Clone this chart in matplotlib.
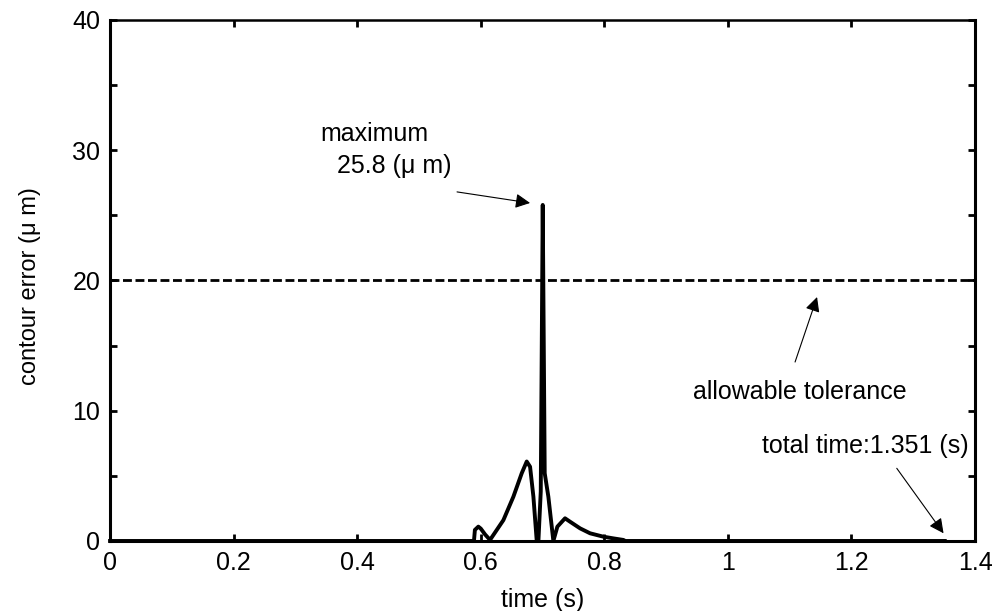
import matplotlib
matplotlib.use('Agg')
import matplotlib.pyplot as plt
from matplotlib.ticker import MultipleLocator

plt.rcParams['font.family'] = ['Liberation Sans', 'DejaVu Sans']

# contour error trace
time_s = [0.0, 0.589, 0.5905, 0.5961, 0.600, 0.607, 0.615,
          0.6366, 0.6528, 0.6663, 0.6744, 0.6798, 0.6852, 0.6906,
          0.6933, 0.6971, 0.7003, 0.7035, 0.7094, 0.7175,
          0.7240, 0.7364, 0.7445, 0.7607, 0.7769, 0.7984, 0.8146, 0.8308,
          0.834, 1.351]
error_um = [0.0, 0.0, 0.85, 1.1, 0.95, 0.5, 0.08,
            1.6, 3.4, 5.2, 6.1, 5.7, 3.4, 0.0,
            0.0, 3.8, 25.8, 5.2, 3.4, 0.0,
            1.1, 1.74, 1.48, 0.97, 0.59, 0.33, 0.2, 0.08,
            0.0, 0.0]

tolerance = 20.0
max_err = 25.8
total_time = 1.351

xticks = [0, 0.2, 0.4, 0.6, 0.8, 1.0, 1.2, 1.4]
xtick_labels = ['0', '0.2', '0.4', '0.6', '0.8', '1', '1.2', '1.4']
yticks = [0, 10, 20, 30, 40]
ytick_labels = ['0', '10', '20', '30', '40']

fig = plt.figure(figsize=(10.05, 6.11), dpi=100)
ax = fig.add_axes([0.1095, 0.1146, 0.8607, 0.8527])

ax.plot(time_s, error_um, color='black', lw=2.8, clip_on=False, zorder=3)
ax.plot([0, 1.4], [tolerance, tolerance], color='black', lw=2.0,
        linestyle=(0, (3.2, 1.3)))

ax.set_xlim(0, 1.4)
ax.set_ylim(0, 40)
ax.set_xticks(xticks)
ax.set_xticklabels(xtick_labels)
ax.set_yticks(yticks)
ax.set_yticklabels(ytick_labels)
ax.yaxis.set_minor_locator(MultipleLocator(5))

ax.tick_params(which='both', direction='in', length=5, width=2,
               top=True, right=True, labelsize=18, pad=7)
for side in ['left', 'right', 'bottom']:
    ax.spines[side].set_linewidth(2.2)
ax.spines['top'].set_linewidth(1.8)

ax.set_xlabel('time (s)', fontsize=18)
ax.set_ylabel('contour error (\u03bc m)', fontsize=17)
ax.xaxis.set_label_coords(0.5, -0.09)
ax.yaxis.set_label_coords(-0.080, 0.49)

arrow = dict(arrowstyle='-|>', color='black', lw=0.8, mutation_scale=22,
             shrinkA=0, shrinkB=0)

ax.text(0.340, 30.7, 'maximum', fontsize=18, va='baseline')
ax.text(0.367, 28.25, '25.8 (\u03bc m)', fontsize=18, va='baseline')
ax.annotate('', xy=(0.6798, max_err + 0.15), xytext=(0.5616, 26.8),
            arrowprops=arrow)

ax.text(0.9438, 10.88, 'allowable tolerance', fontsize=18, va='baseline')
ax.annotate('', xy=(1.1443, 18.73), xytext=(1.1087, 13.74),
            arrowprops=arrow)

ax.text(1.0548, 6.73, 'total time:1.351 (s)', fontsize=18, va='baseline')
ax.annotate('', xy=(total_time - 0.002, 0.59), xytext=(1.2733, 5.58),
            arrowprops=arrow)

fig.savefig('out.png', dpi=100)
